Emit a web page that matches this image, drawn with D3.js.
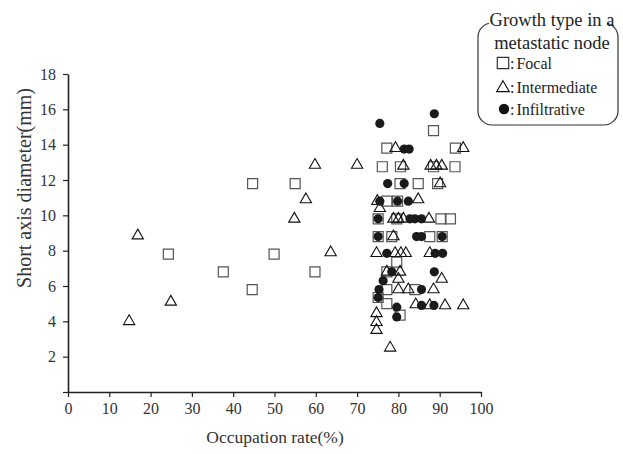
<!DOCTYPE html>
<html>
<head>
<meta charset="utf-8">
<script src="https://cdn.jsdelivr.net/npm/d3@7"></script>
<style>
  html, body { margin: 0; padding: 0; background: #fff; }
  svg { display: block; font-family: "Liberation Serif", "DejaVu Serif", serif; }
  svg text { font-family: "Liberation Serif", "DejaVu Serif", serif; }
</style>
</head>
<body>
<div id="chart"></div>
<script>
// Occupation rate (%) vs short axis diameter (mm), by growth type

const focal = [
  [24.3, 7.8], [37.6, 6.8], [44.7, 11.8], [44.6, 5.8], [49.9, 7.8], [55.0, 11.8], [59.8, 6.8],
  [77.2, 13.8], [88.5, 14.8], [93.8, 13.8],
  [76.1, 12.75], [80.5, 12.75], [88.5, 12.75], [93.7, 12.75],
  [80.4, 11.8], [84.8, 11.8], [89.5, 11.8],
  [77.2, 10.8], [79.8, 10.8],
  [75.1, 9.8], [79.6, 9.8], [90.3, 9.8], [92.6, 9.8],
  [75.1, 8.8], [78.4, 8.8], [87.6, 8.8], [90.6, 8.8],
  [79.6, 7.35], [77.2, 6.8],
  [77.2, 5.8], [84.0, 5.8], [75.1, 5.35], [77.2, 5.0], [80.4, 4.35]
];

const intermediate = [
  [14.8, 4.0], [16.9, 8.85], [24.9, 5.1], [54.8, 9.8], [57.6, 10.9], [59.8, 12.85], [63.6, 7.9], [70.0, 12.85],
  [79.3, 13.8], [95.7, 13.8],
  [81.2, 12.8], [87.8, 12.8], [89.2, 12.8], [90.5, 12.8],
  [90.1, 11.8],
  [74.9, 10.8], [84.8, 10.9], [75.5, 10.4],
  [78.8, 9.8], [80.0, 9.8], [81.2, 9.8], [87.4, 9.8],
  [78.8, 8.8],
  [74.7, 7.85], [79.2, 7.85], [80.6, 7.85], [81.8, 7.85], [87.6, 7.85],
  [77.2, 6.8], [80.4, 6.8], [80.0, 6.4], [90.5, 6.4],
  [80.0, 5.8], [82.4, 5.8], [88.5, 5.8],
  [84.2, 4.95], [87.6, 4.9], [91.3, 4.9], [95.7, 4.9],
  [74.7, 4.45], [74.7, 3.95], [74.7, 3.5], [78.0, 2.5]
];

const infiltrative = [
  [75.5, 15.2], [88.7, 15.75],
  [81.4, 13.75], [82.6, 13.75],
  [77.4, 11.8], [81.4, 11.8],
  [75.5, 10.8], [79.8, 10.8], [82.4, 10.8],
  [75.1, 9.8], [82.8, 9.8], [84.0, 9.8], [85.6, 9.8],
  [75.1, 8.8], [84.4, 8.8], [85.6, 8.8], [90.6, 8.8],
  [77.2, 7.85], [88.9, 7.85], [90.7, 7.85],
  [78.4, 6.8], [88.7, 6.8],
  [76.3, 6.3],
  [75.3, 5.8], [85.6, 5.8],
  [75.1, 5.35],
  [79.6, 4.8], [85.6, 4.9], [88.6, 4.9],
  [79.6, 4.25]
];

const xTicks = [0, 10, 20, 30, 40, 50, 60, 70, 80, 90, 100];
const yTicks = [0, 2, 4, 6, 8, 10, 12, 14, 16, 18];
const legendTitle = ["Growth type in a", "metastatic node"];
const legendLabels = [": Focal", ": Intermediate", ": Infiltrative"];

const width = 623, height = 454;
const serif = "Liberation Serif, DejaVu Serif, serif";

const svg = d3.select("#chart")
  .append("svg")
  .attr("width", width)
  .attr("height", height);

const x = d3.scaleLinear().domain([0, 100]).range([68, 481]);
const y = d3.scaleLinear().domain([0, 18]).range([392, 74]);

// axes
const xAxis = svg.append("g")
  .attr("transform", `translate(0,${y(0)})`)
  .call(d3.axisBottom(x).tickValues(xTicks).tickSize(5).tickPadding(6).tickSizeOuter(0));

const yAxis = svg.append("g")
  .attr("transform", `translate(${x(0)},0)`)
  .call(d3.axisLeft(y).tickValues(yTicks).tickSize(5).tickPadding(7).tickSizeOuter(0)
    .tickFormat(d => d === 0 ? "" : d));

[xAxis, yAxis].forEach(a => {
  a.attr("font-family", serif).attr("font-size", 16);
  a.select(".domain").attr("stroke", "#222").attr("stroke-width", 1.6);
  a.selectAll(".tick line").attr("stroke", "#222").attr("stroke-width", 1.2);
  a.selectAll(".tick text").attr("fill", "#333");
});

// axis titles
svg.append("text")
  .attr("x", 275)
  .attr("y", 443)
  .attr("text-anchor", "middle")
  .attr("fill", "#333")
  .attr("font-family", serif)
  .attr("font-size", 17.5)
  .text("Occupation rate(%)");

svg.append("text")
  .attr("transform", "translate(31,188) rotate(-90)")
  .attr("text-anchor", "middle")
  .attr("fill", "#333")
  .attr("font-family", serif)
  .attr("font-size", 20)
  .text("Short axis diameter(mm)");

// markers
const sq = d3.symbol().type(d3.symbolSquare).size(100);
const tri = d3.symbol().type(d3.symbolTriangle).size(55);

svg.append("g").selectAll("path")
  .data(focal)
  .join("path")
  .attr("d", sq)
  .attr("transform", d => `translate(${x(d[0])},${y(d[1])})`)
  .attr("fill", "none")
  .attr("stroke", "#555")
  .attr("stroke-width", 1.2);

svg.append("g").selectAll("path")
  .data(intermediate)
  .join("path")
  .attr("d", tri)
  .attr("transform", d => `translate(${x(d[0])},${y(d[1])})`)
  .attr("fill", "none")
  .attr("stroke", "#111")
  .attr("stroke-width", 1.1);

svg.append("g").selectAll("circle")
  .data(infiltrative)
  .join("circle")
  .attr("cx", d => x(d[0]))
  .attr("cy", d => y(d[1]))
  .attr("r", 4.6)
  .attr("fill", "#1a1a1a");

// legend
const lg = svg.append("g").attr("font-family", serif);
lg.append("rect")
  .attr("x", 478).attr("y", 23)
  .attr("width", 140).attr("height", 102)
  .attr("rx", 14).attr("ry", 14)
  .attr("fill", "#fff")
  .attr("stroke", "#333")
  .attr("stroke-width", 1.2);

lg.append("rect")
  .attr("x", 489).attr("y", 10)
  .attr("width", 118).attr("height", 20)
  .attr("fill", "#fff");

lg.selectAll("text.title")
  .data(legendTitle)
  .join("text")
  .attr("class", "title")
  .attr("x", 552)
  .attr("y", (d, i) => 26 + i * 23)
  .attr("text-anchor", "middle")
  .attr("fill", "#222")
  .attr("font-size", 18.5)
  .text(d => d);

const itemY = [63, 87, 109];
lg.append("path")
  .attr("d", d3.symbol().type(d3.symbolSquare).size(130))
  .attr("transform", `translate(503,${itemY[0]})`)
  .attr("fill", "none").attr("stroke", "#333").attr("stroke-width", 1.2);
lg.append("path")
  .attr("d", d3.symbol().type(d3.symbolTriangle).size(70))
  .attr("transform", `translate(503,${itemY[1] + 1})`)
  .attr("fill", "none").attr("stroke", "#111").attr("stroke-width", 1.1);
lg.append("circle")
  .attr("cx", 504).attr("cy", itemY[2])
  .attr("r", 5.2).attr("fill", "#111");

lg.selectAll("text.item")
  .data(legendLabels)
  .join("text")
  .attr("class", "item")
  .attr("x", 510)
  .attr("y", (d, i) => itemY[i] + 5.5)
  .attr("fill", "#222")
  .attr("font-size", 16)
  .attr("word-spacing", -2)
  .text(d => d);
</script>
</body>
</html>
